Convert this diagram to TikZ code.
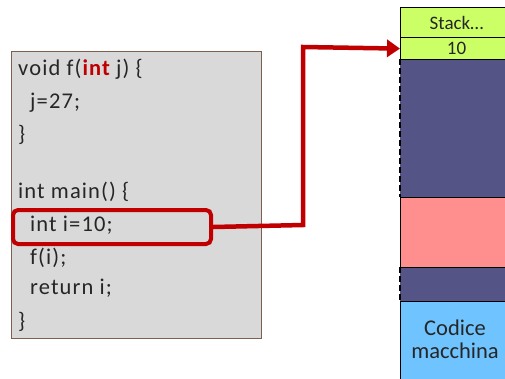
\documentclass[tikz,border=0pt]{standalone}
\usepackage{fontspec}
\setmainfont{Carlito}
\newfontfamily\codefont[LetterSpace=5]{Carlito}
\usetikzlibrary{arrows.meta}
\definecolor{codefill}{HTML}{D9D9D9}
\definecolor{codeborder}{HTML}{7F6050}
\definecolor{darkred}{HTML}{C00000}
\definecolor{lime}{HTML}{CCFF66}
\definecolor{navy}{HTML}{545487}
\definecolor{pinkc}{HTML}{FF8F8F}
\definecolor{skyc}{HTML}{6FC3FF}
\definecolor{txt}{HTML}{262626}
\tikzset{
  codeline/.style={anchor=west, inner sep=0pt, font=\codefont\fontsize{22.5}{24}\selectfont, text=txt},
  memcell/.style={draw=black, line width=1.2pt, anchor=north west, inner sep=0pt},
  redbox/.style={draw=darkred, line width=4pt, rounded corners=5pt},
  redarrow/.style={draw=darkred, line width=4.5pt, -{Triangle[length=13pt,width=17pt]}},
  dashedge/.style={black, line width=1.5pt, dash pattern=on 6pt off 3pt},
}
\begin{document}
\begin{tikzpicture}[x=1pt,y=-1pt]
\useasboundingbox (0,0) rectangle (505,378);
\clip (0,0) rectangle (505,378);
% code box
\node[draw=codeborder, fill=codefill, line width=1.2pt, minimum width=250pt, minimum height=287pt, anchor=north west, inner sep=0pt] (code) at (11,51) {};
\node[codeline] (l1) at (18,69) {void f(\textbf{\color{darkred}int} j) \{};
\node[codeline] (l2) at (30,103) {j=27;};
\node[codeline] (l3) at (18,135) {\}};
\node[codeline] (l4) at (18,192) {int main() \{};
\node[codeline] (l5) at (30,225) {int i=10;};
\node[codeline] (l6) at (30,258) {f(i);};
\node[codeline] (l7) at (30,288) {return i;};
\node[codeline] (l8) at (18,322) {\}};
% highlight box
\node[redbox, minimum width=198pt, minimum height=34pt, anchor=north west, inner sep=0pt] (hl) at (11,208) {};
% memory column
\fill[navy] (400,59) rectangle (520,197);
\fill[navy] (400,267) rectangle (520,301);
\draw[dashedge] (400,59) -- (400,197);
\draw[dashedge] (400,267) -- (400,301);
\node[memcell, fill=lime, minimum width=112pt, minimum height=30pt, font=\fontsize{19}{21}\selectfont, text=txt] (stack) at (400,7) {Stack…};
\node[memcell, fill=lime, minimum width=112pt, minimum height=22pt, font=\fontsize{19}{21}\selectfont, text=txt] (ten) at (400,37) {10};
\node[memcell, fill=pinkc, minimum width=112pt, minimum height=70pt] (pink) at (400,197) {};
\node[memcell, fill=skyc, minimum width=112pt, minimum height=90pt] (code2) at (400,301) {};
\node[font=\fontsize{22.5}{24}\selectfont, text=txt, align=center, inner sep=0pt] (cm) at (455,339) {Codice\\[-1pt]macchina};
% arrow
\coordinate (bend1) at (303,225);
\coordinate (bend2) at (303,47);
\draw[redarrow] (hl.east) -- (bend1) -- (bend2) -- (ten.west);
\end{tikzpicture}
\end{document}
